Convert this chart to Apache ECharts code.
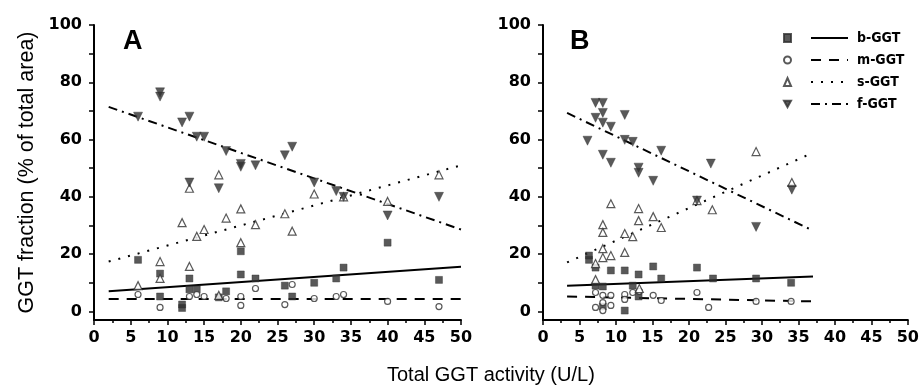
<!DOCTYPE html>
<html><head><meta charset="utf-8">
<script src="https://cdn.jsdelivr.net/npm/echarts@6/dist/echarts.min.js"></script>
<style>html,body{margin:0;padding:0;background:#fff}#c{width:922px;height:391px}</style>
</head><body><div id="c"></div>
<script>
// Panel A data [x, y]
var A_b = [[6,18],[9,13.2],[9,5.2],[12,2.4],[12,1.2],[13,11.5],[13,7.7],[14,7.7],[17,4.9],[18,7],[20,21],[20,12.9],[22,11.5],[26,9],[27,5.2],[30,10],[33,11.5],[34,15.3],[40,24],[47,11]];
var A_m = [[6,5.9],[9,1.4],[13,5.2],[14,5.9],[15,5.2],[18,4.5],[20,5.2],[20,2.1],[22,8],[26,2.4],[27,9.4],[30,4.5],[33,5.2],[34,5.9],[40,3.5],[47,1.7]];
var A_s = [[6,9],[9,17.4],[9,11.5],[12,31],[13,43],[13,15.7],[14,26.2],[15,28.6],[17,47.7],[17,5.6],[18,32.6],[20,35.8],[20,24],[22,30.3],[26,34.1],[27,28],[30,41],[34,40],[40,38.4],[47,47.7]];
var A_f = [[6,68],[9,76.5],[9,75],[12,66],[13,68],[13,45],[14,61],[15,61],[17,43],[18,56],[20,50.5],[20,51.5],[22,51],[26,54.5],[27,57.5],[30,45],[33,42],[34,40],[40,33.5],[47,40]];
// Panel A fit lines
var A_fit_b = [[2,7],[50,15.6]];
var A_fit_m = [[2,4.3],[50,4.3]];
var A_fit_s = [[2,17.4],[50,51]];
var A_fit_f = [[2,71.4],[50,28.6]];
// Panel B data
var B_b = [[6.3,19.5],[6.3,18],[7.2,15.3],[7.2,9],[8.2,8.7],[8.2,1.7],[9.3,14.3],[11.2,14.3],[11.2,0.3],[12.3,9],[13.1,12.9],[13.1,5.2],[15.1,15.7],[16.2,11.5],[21.1,15.3],[23.3,11.5],[29.2,11.5],[34,10]];
var B_m = [[7.2,1.4],[7.2,6.6],[8.2,5.6],[8.2,3.1],[8.2,0.3],[9.3,2.1],[9.3,5.6],[11.2,5.9],[11.2,4.2],[12.3,6.6],[13.2,7],[15.1,5.6],[16.2,3.8],[21.1,6.6],[22.7,1.4],[29.2,3.5],[34,3.5]];
var B_s = [[7.2,16.7],[7.2,11.1],[8.2,30.3],[8.2,27.6],[8.2,21.9],[8.2,18.8],[9.3,37.6],[9.3,19.5],[11.2,27.2],[11.2,20.6],[12.3,26.1],[13.1,35.9],[13.1,31.7],[13.2,8],[15.1,33.1],[16.2,29.3],[21.1,38.7],[23.2,35.5],[29.2,55.8],[34.1,45]];
var B_f = [[6.1,59.6],[7.2,72.8],[7.2,67.6],[8.2,72.8],[8.2,69.3],[8.2,65.9],[8.2,54.7],[9.3,64.5],[9.3,51.9],[11.2,68.6],[11.2,59.9],[12.3,59.2],[13.1,50.2],[13.1,48.4],[15.1,45.6],[16.2,56.1],[21.1,38.7],[23,51.6],[29.2,29.5],[34.1,42.5]];
// Panel B fit lines
var B_fit_b = [[3.3,9],[37,12.2]];
var B_fit_m = [[3.3,5.2],[37,3.5]];
var B_fit_s = [[3.3,17.1],[37,55.4]];
var B_fit_f = [[3.3,69.3],[37,28.2]];
// Axis ticks
var yLabels = [0,20,40,60,80,100];
var yTicks = [0,10,20,30,40,50,60,70,80,90,100];
var names = ['b-GGT','m-GGT','s-GGT','f-GGT'];

var INK = '#303030';
var chart = echarts.init(document.getElementById('c'), null, {renderer:'canvas'});

function xAx(idx){
  return {gridIndex: idx, type:'value', min:0, max:50, interval:5,
    axisLine:{show:true, onZero:false, lineStyle:{color:'#000', width:2}},
    axisTick:{show:true, length:5, lineStyle:{color:'#000', width:1.5}},
    minorTick:{show:true, splitNumber:2, length:3, lineStyle:{color:'#000', width:1.5}},
    axisLabel:{color:'#000', fontSize:16, fontWeight:'bold', fontFamily:'DejaVu Sans', margin:10},
    splitLine:{show:false}};
}
function yAx(idx, withName){
  var o = {gridIndex: idx, type:'value', min:-3, max:100,
    axisLine:{show:true, onZero:false, lineStyle:{color:'#000', width:2}},
    axisTick:{show:true, length:5, customValues: yTicks, lineStyle:{color:'#000', width:1.5}},
    axisLabel:{color:'#000', fontSize:16, fontWeight:'bold', fontFamily:'DejaVu Sans', margin:12, customValues: yLabels},
    splitLine:{show:false}};
  if (withName){
    o.name = 'GGT fraction (% of total area)';
    o.nameLocation = 'middle';
    o.nameGap = 56;
    o.nameTextStyle = {color:'#000', fontSize:21.5, fontFamily:'Liberation Sans'};
  }
  return o;
}
function scat(name, data, idx, sym, size, filled, rot){
  return {name:name+' pts', type:'scatter', xAxisIndex:idx, yAxisIndex:idx, data:data,
    symbol:sym, symbolSize:size, symbolRotate: rot||0,
    itemStyle: filled ? {color:INK, borderColor:INK, borderWidth:0.5} : {color:'#fff', borderColor:INK, borderWidth:1.2},
    emphasis:{disabled:true}, z:3};
}
function fit(name, data, idx, type){
  return {name:name, type:'line', xAxisIndex:idx, yAxisIndex:idx, data:data, symbol:'none',
    itemStyle:{color:'#000'},
    lineStyle:{color:'#000', width:2, type:type}, emphasis:{disabled:true}, z:2, silent:true};
}
var T_solid='solid', T_dash=[10,8], T_dot=[2,8], T_dashdot=[9,5,2,5];
var series = [];
[[A_b,A_m,A_s,A_f,A_fit_b,A_fit_m,A_fit_s,A_fit_f,0],[B_b,B_m,B_s,B_f,B_fit_b,B_fit_m,B_fit_s,B_fit_f,1]].forEach(function(p){
  var i=p[8];
  series.push(fit(names[0], p[4], i, T_solid));
  series.push(fit(names[1], p[5], i, T_dash));
  series.push(fit(names[2], p[6], i, T_dot));
  series.push(fit(names[3], p[7], i, T_dashdot));
  series.push(scat(names[0], p[0], i, 'rect', 7, true));
  series.push(scat(names[1], p[1], i, 'circle', 6, false));
  series.push(scat(names[2], p[2], i, 'triangle', 8, false));
  series.push(scat(names[3], p[3], i, 'triangle', 9, true, 180));
});

chart.setOption({
  animation:false,
  backgroundColor:'#fff',
  grid:[{left:94, width:367, top:25, bottom:71, containLabel:false},
        {left:543, width:367, top:25, bottom:71, containLabel:false}],
  xAxis:[xAx(0), xAx(1)],
  yAxis:[yAx(0,true), yAx(1,false)],
  title:[
    {text:'A', left:118, top:23, textStyle:{fontSize:27, fontWeight:'bold', color:'#000', fontFamily:'Liberation Sans'}},
    {text:'B', left:565, top:23, textStyle:{fontSize:27, fontWeight:'bold', color:'#000', fontFamily:'Liberation Sans'}},
    {text:'Total GGT activity (U/L)', left:382, top:360, textStyle:{fontSize:20, fontWeight:'normal', color:'#000', fontFamily:'Liberation Sans'}}
  ],
  legend:[
    {orient:'vertical', left:778, top:26, itemWidth:7, itemHeight:8, itemGap:8,
     data: [
       {name:'b-GGT pts'},
       {name:'m-GGT pts'},
       {name:'s-GGT pts'},
       {name:'f-GGT pts', icon:'path://M0,0L10,0L5,9Z'}
     ], formatter:function(){return ' ';},
     textStyle:{fontSize:14, lineHeight:14}, selectedMode:false},
    {orient:'vertical', left:805, top:26, itemWidth:37, itemHeight:14, itemGap:8,
     data: names, selectedMode:false, itemStyle:{opacity:0},
     textStyle:{fontSize:14, lineHeight:14, fontWeight:'bold', color:'#000', fontFamily:'DejaVu Sans Condensed', padding:[0,0,0,4]}}
  ],
  series: series
});
</script></body></html>
